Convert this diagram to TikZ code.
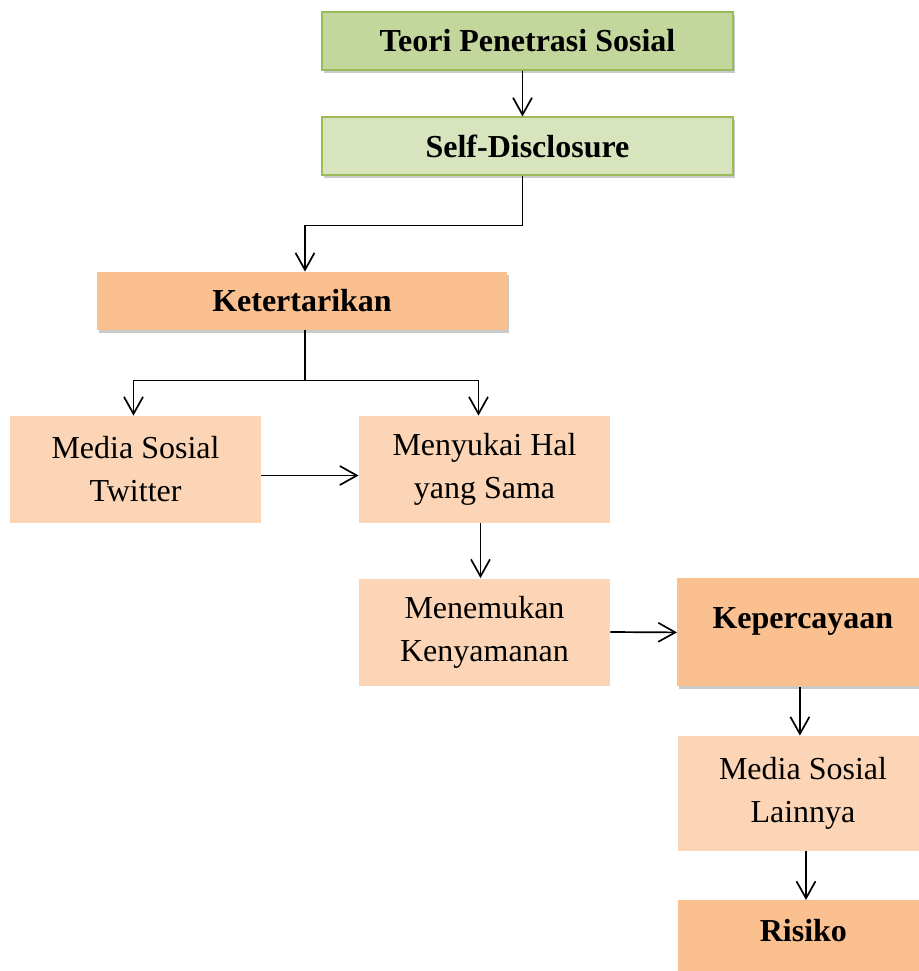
\documentclass[tikz,border=0pt]{standalone}
\usepackage{fontspec}
\setmainfont{Liberation Serif}
\usetikzlibrary{arrows.meta,shadows}
\definecolor{greendark}{HTML}{C3D69B}
\definecolor{greenlight}{HTML}{D7E4BD}
\definecolor{greenline}{HTML}{9BBB59}
\definecolor{orangedark}{HTML}{FAC090}
\definecolor{orangelight}{HTML}{FBD5B5}
\begin{document}
\begin{tikzpicture}[x=0.5pt, y=-0.5pt,
  shade/.style={drop shadow={shadow xshift=1pt, shadow yshift=-1.5pt, opacity=0.35, fill=black!60}},
  greenbox/.style={draw=greenline, line width=0.6pt, shade, minimum width=205.5pt, minimum height=29pt, inner sep=0pt, font=\fontsize{16}{20}\selectfont\bfseries},
  headbox/.style={fill=orangedark, shade, inner sep=0pt, font=\fontsize{16}{20}\selectfont\bfseries},
  softbox/.style={fill=orangelight, minimum width=125.5pt, minimum height=53.5pt, inner sep=0pt, align=center, font=\fontsize{16}{21.5}\selectfont},
  arr/.style={-{Straight Barb[length=8.5pt,width=9.5pt]}, line width=0.85pt}]
	\useasboundingbox (0,0) rectangle (918,971);

	\node[greenbox, fill=greendark] (teori) at (527.5,41) {Teori Penetrasi Sosial};
	\node[greenbox, fill=greenlight] (self) at (527.5,146) {Self-Disclosure};
	\node[headbox, minimum width=205pt, minimum height=29pt] (ket) at (302,301) {Ketertarikan};

	\node[softbox] (twit) at (135.5,469.5) {Media Sosial\\Twitter};
	\node[softbox] (suka) at (484.5,469.5) {Menyukai Hal\\yang Sama};
	\node[softbox] (temu) at (484.5,632) {Menemukan\\Kenyamanan};

	\node[headbox, anchor=north west, minimum width=125.5pt, text height=25pt, text depth=29pt] (kep) at (677,578) {Kepercayaan};
	\node[softbox, minimum height=57.5pt] (lain) at (803,793.5) {Media Sosial\\Lainnya};
	\node[headbox, anchor=north west, minimum width=125pt, text height=20.5pt, text depth=33.5pt] (risiko) at (678,900) {Risiko};

	\draw[arr] ([xshift=-2.5pt]teori.south) -- ([xshift=-2.5pt]self.north);
	\draw[arr] ([xshift=-2.5pt]self.south) -- ++(0,-25pt) -| ([xshift=1.5pt]ket.north);
	\draw[line width=0.85pt] ([xshift=1.5pt]ket.south) -- ++(0,-25pt) coordinate (split);
	\draw[arr] (split) -| ([xshift=-1pt]twit.north);
	\draw[arr] (split) -| ([xshift=-3pt]suka.north);
	\draw[arr] ([yshift=-3pt]twit.east) -- ([yshift=-3pt]suka.west);
	\draw[arr] ([xshift=-2pt]suka.south) -- ([xshift=-2pt]temu.north);
	\draw[arr] (temu.east) -- (kep.west);
	\draw[arr] ([xshift=-1.5pt]kep.south) -- ([xshift=-1.5pt]kep.south |- lain.north);
	\draw[arr] ([xshift=1.5pt]lain.south) -- ([xshift=1.5pt]lain.south |- risiko.north);
\end{tikzpicture}
\end{document}
